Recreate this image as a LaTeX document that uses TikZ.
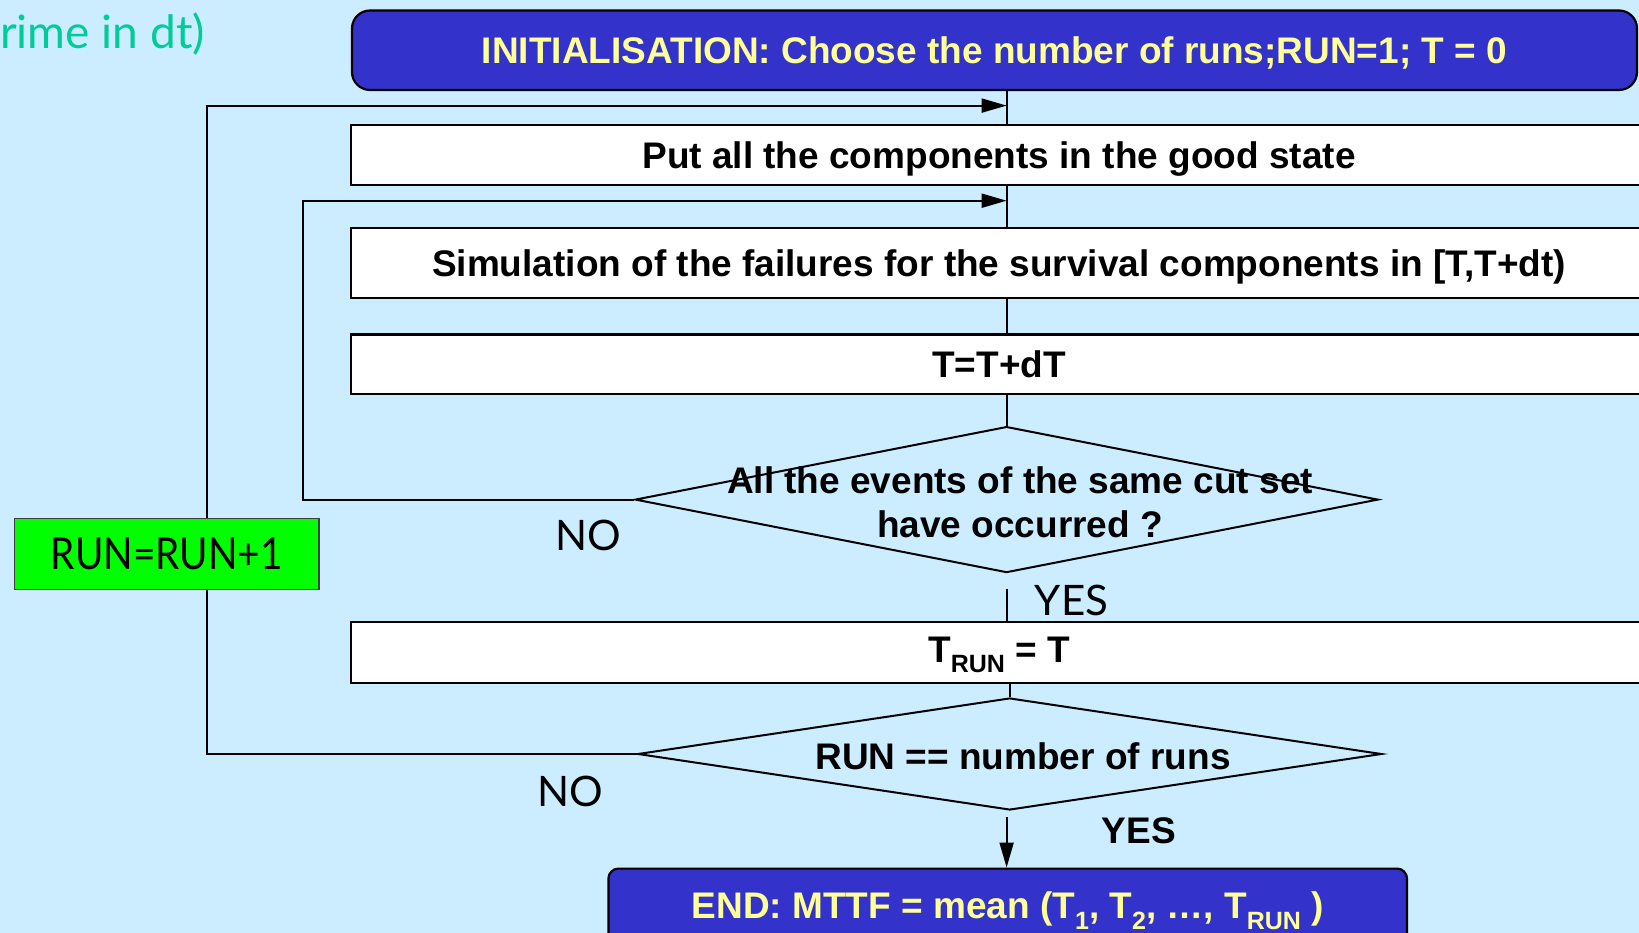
\documentclass[tikz,border=0pt]{standalone}
\usepackage{fontspec}
\setmainfont{Liberation Sans}
\newfontfamily\comicf{Lato}
\newfontfamily\comicn[FakeStretch=0.88]{Lato}
\usetikzlibrary{shapes.geometric,arrows.meta}
\definecolor{bgblue}{HTML}{CCECFF}
\definecolor{initblue}{HTML}{3333CC}
\definecolor{txtyellow}{HTML}{FFFF99}
\definecolor{notegreen}{HTML}{00CC99}
\definecolor{boxgreen}{HTML}{00FF00}
\newcommand\subs[1]{\raisebox{-0.28em}{\fontsize{25}{25}\selectfont #1}}
\begin{document}
\begin{tikzpicture}[x=1pt,y=-1pt,
  every node/.style={inner sep=0pt},
  flow/.style={draw=black, line width=2pt},
  arr/.style={-{Triangle[length=25pt,width=14pt]}},
  mainfont/.style={font=\bfseries\fontsize{37}{44}\selectfont},
  capcenter/.style={text height=30pt, text depth=3.5pt},
  procbox/.style={rectangle, draw=black, line width=2.2pt, fill=white, minimum width=1296pt, mainfont, capcenter},
  termbox/.style={rectangle, rounded corners=18pt, draw=black, line width=2.2pt, fill=initblue, text=txtyellow, mainfont, capcenter},
  decision/.style={diamond, draw=black, line width=2pt},
  dtext/.style={mainfont, align=center},
  comic/.style={font=\comicf\fontsize{42}{48}\selectfont}
]
\path[use as bounding box, fill=bgblue] (0,0) rectangle (1639,933);

% boxes
\node[termbox, minimum width=1285pt, minimum height=79.5pt] (init) at (994.5,50.25) {INITIALISATION: Choose the number of runs;RUN=1; T = 0};
\node[procbox, minimum height=59.6pt] (put) at (999,155.2) {Put all the components in the good state};
\node[procbox, minimum height=70pt] (sim) at (999,263) {Simulation of the failures for the survival components in [T,T+dt)};
\node[procbox, minimum height=59.5pt] (tt) at (999,364.25) {T=T+dT};
\node[decision, minimum width=743pt, minimum height=146pt] (d1) at (1006.6,499.6) {};
\node[dtext] (d1t) at (1020,502) {All the events of the same cut set\\have occurred ?};
\node[procbox, minimum height=60.6pt, text height=27pt, text depth=6.5pt] (trun) at (999,652.3) {T\subs{RUN} = T};
\node[decision, minimum width=744pt, minimum height=112pt] (d2) at (1009.7,754) {};
\node[dtext] (d2t) at (1023,756) {RUN == number of runs};
\node[termbox, rounded corners=10pt, minimum width=798.6pt, minimum height=74pt] (end) at (1007.7,905.6) {END: MTTF = mean (T\subs{1}, T\subs{2}, …, T\subs{RUN} )};

% labels
\node[comic, font=\comicf\fontsize{46}{50}\selectfont, text=notegreen, anchor=west] (note) at (0,34.5) {rime in dt)};
\node[comic] (no1) at (588.5,535) {NO};
\node[comic] (no2) at (570.7,791) {NO};
\node[comic] (yes1) at (1071.5,600) {YES};
\node[mainfont] (yes2) at (1139,831) {YES};

% connectors
\coordinate (j2) at (1006.6,105.6);
\coordinate (j1) at (1006.6,200.7);
\coordinate (y1) at (1006.6,588.5);
\coordinate (a3) at (1006.6,817.4);
\coordinate (l1) at (303,0);
\coordinate (l2) at (207,0);
\draw[flow] (j2 |- init.south) -- (j2 |- put.north);
\draw[flow] (j1 |- put.south) -- (j1 |- sim.north);
\draw[flow] (j1 |- sim.south) -- (j1 |- tt.north);
\draw[flow] (j1 |- tt.south) -- (d1.north);
\draw[flow] (y1) -- (y1 |- trun.north);
\draw[flow] (trun.south -| d2.north) -- (d2.north);
\draw[flow, arr] (a3) -- (a3 |- end.north);
\draw[flow, arr] (d1.west) -- (d1.west -| l1) |- (j1);
\draw[flow, arr] (d2.west) -- (d2.west -| l2) |- (j2);

\node[rectangle, draw=black!75, line width=1.5pt, fill=boxgreen, minimum width=304.4pt, minimum height=71pt, font=\comicn\fontsize{44}{48}\selectfont] (inc) at (166.8,554) {RUN=RUN+1};
\end{tikzpicture}
\end{document}
